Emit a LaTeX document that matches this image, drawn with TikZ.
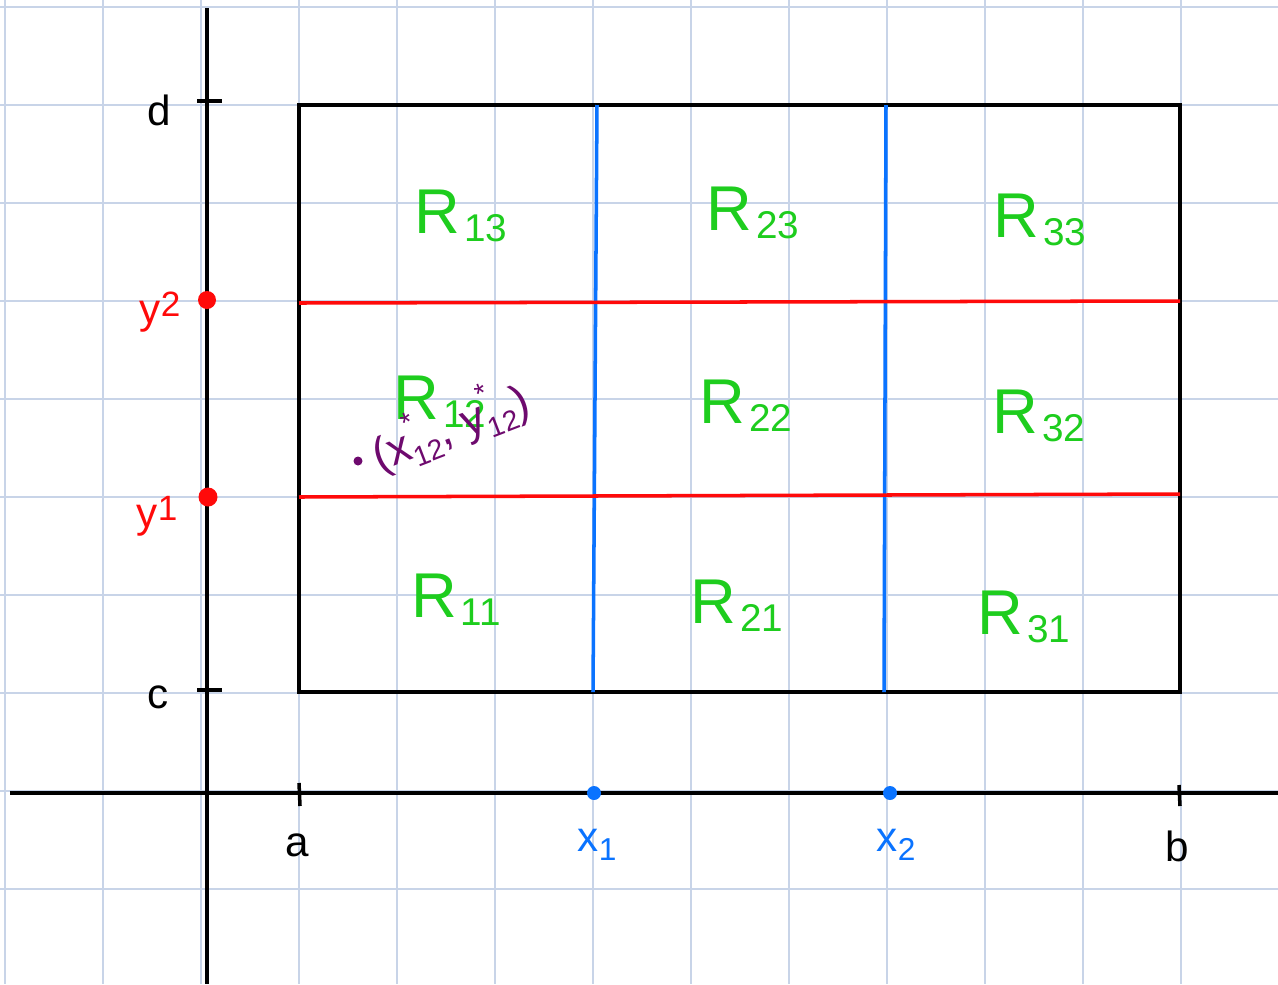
\documentclass[tikz,border=0pt]{standalone}
\usepackage{fontspec}
\setmainfont{Liberation Sans}
\definecolor{gridc}{RGB}{200,212,232}
\definecolor{hgreen}{RGB}{30,205,30}
\definecolor{hred}{RGB}{255,10,10}
\definecolor{hblue}{RGB}{10,115,255}
\definecolor{hpurple}{RGB}{110,10,110}
\newcommand{\Rlab}[1]{R\kern1pt\raisebox{-0.25ex}{\fontsize{11}{11}\selectfont #1}}
\newcommand{\sbs}[1]{\raisebox{-0.4ex}{\fontsize{8}{8}\selectfont #1}}
\newcommand{\starred}{\rlap{\raisebox{1.1ex}{\fontsize{8}{8}\selectfont *}}}
\tikzset{
  gridline/.style={draw=gridc, line width=0.35pt},
  axisline/.style={draw=black, line width=1.2pt},
  boxline/.style={draw=black, line width=0.9pt},
  xpart/.style={draw=hblue, line width=1.0pt},
  ypart/.style={draw=hred, line width=1.0pt},
  rlabel/.style={text=hgreen, font=\fontsize{18}{18}\selectfont, inner sep=0pt},
  axlabel/.style={font=\fontsize{12}{12}\selectfont, inner sep=0pt},
  tickmark/.style={draw=black, line width=1.0pt},
}
\begin{document}
\begin{tikzpicture}[x=0.01cm, y=-0.01cm]
\useasboundingbox (0,0) rectangle (1278,984);
\fill[white] (0,0) rectangle (1278,984);
% grid
\foreach \i in {0,...,13} {\draw[gridline] ({5+98*\i},0) -- ({5+98*\i},984);}
\foreach \j in {0,...,10} {\draw[gridline] (0,{7+98*\j}) -- (1278,{7+98*\j});}
% axes
\coordinate (ytop) at (207,8);
\coordinate (ybot) at (207,984);
\coordinate (xleft) at (10,793);
\coordinate (xright) at (1278,793);
\draw[axisline] (ytop) -- (ybot);
\draw[axisline] (xleft) -- (xright);
% rectangle
\coordinate (A) at (299,105);
\coordinate (B) at (1180,692);
\draw[boxline] (A) rectangle (B);
% ticks
\coordinate (dt1) at (197,101); \coordinate (dt2) at (222,101);
\coordinate (ct1) at (197,690); \coordinate (ct2) at (222,690);
\coordinate (at1) at (299,783); \coordinate (at2) at (300,806);
\coordinate (bt1) at (1179,785); \coordinate (bt2) at (1180,806);
\draw[tickmark] (dt1) -- (dt2);
\draw[tickmark] (ct1) -- (ct2);
\draw[tickmark] (at1) -- (at2);
\draw[tickmark] (bt1) -- (bt2);
\node[axlabel] (dlab) at (159,110) {d};
\node[axlabel] (clab) at (158,697) {c};
\node[axlabel] (alab) at (297,845) {a};
\node[axlabel] (blab) at (1177,846) {b};
% partition lines
\coordinate (x1t) at (597,105); \coordinate (x1b) at (593,692);
\coordinate (x2t) at (886,105); \coordinate (x2b) at (884,692);
\draw[xpart] (x1t) -- (x1b);
\draw[xpart] (x2t) -- (x2b);
\coordinate (y2l) at (299,303); \coordinate (y2r) at (1180,301);
\coordinate (y1l) at (299,497); \coordinate (y1r) at (1180,494);
\draw[ypart] (y2l) -- (y2r);
\draw[ypart] (y1l) -- (y1r);
% points on axes
\fill[hblue] (594,793) circle (7) coordinate (x1pt);
\fill[hblue] (890,793) circle (7) coordinate (x2pt);
\fill[hred] (207,300) circle (9) coordinate (y2pt);
\fill[hred] (208,497) circle (9.5) coordinate (y1pt);
\node[axlabel, text=hblue] (x1lab) at (597,845) {x\raisebox{-0.4ex}{\fontsize{9}{9}\selectfont 1}};
\node[axlabel, text=hblue] (x2lab) at (896,845) {x\raisebox{-0.4ex}{\fontsize{9}{9}\selectfont 2}};
\node[axlabel, text=hred] (y2lab) at (160,312) {y\raisebox{0.3ex}{\fontsize{10}{10}\selectfont 2}};
\node[axlabel, text=hred] (y1lab) at (157,516) {y\raisebox{0.3ex}{\fontsize{10}{10}\selectfont 1}};
% region labels
\node[rlabel] (R13) at (461,216) {\Rlab{13}};
\node[rlabel] (R23) at (753,213) {\Rlab{23}};
\node[rlabel] (R33) at (1040,220) {\Rlab{33}};
\node[rlabel] (R12) at (440,402) {\Rlab{12}};
\node[rlabel] (R22) at (746,406) {\Rlab{22}};
\node[rlabel] (R32) at (1039,416) {\Rlab{32}};
\node[rlabel] (R11) at (456,600) {\Rlab{11}};
\node[rlabel] (R21) at (737,606) {\Rlab{21}};
\node[rlabel] (R31) at (1024,617) {\Rlab{31}};
% sample point
\fill[hpurple] (358,461) circle (4.5) coordinate (sp);
\node[text=hpurple, font=\fontsize{13}{13}\selectfont, inner sep=0pt, rotate=21, anchor=west] (splab) at (372,455)
  {(x\starred\sbs{12}, y\starred\sbs{12})};
\end{tikzpicture}
\end{document}
